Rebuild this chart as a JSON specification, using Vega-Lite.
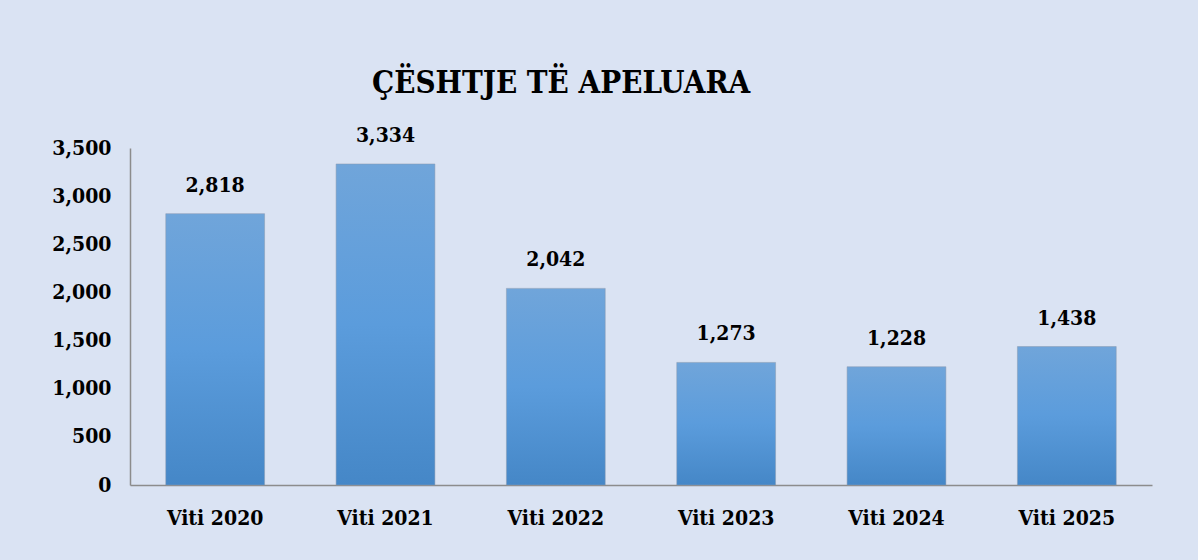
{
  "$schema": "https://vega.github.io/schema/vega-lite/v6.json",
  "width": 1022,
  "height": 337,
  "autosize": {"type": "none"},
  "padding": {"left": 130, "top": 148, "right": 46, "bottom": 75},
  "background": "#DAE3F3",
  "config": {
    "view": {"stroke": null},
    "font": "DejaVu Serif Condensed, DejaVu Serif"
  },
  "title": {
    "text": "ÇËSHTJE TË APELUARA",
    "anchor": "start",
    "frame": "group",
    "dx": 242,
    "fontSize": 31,
    "fontWeight": "bold",
    "font": "DejaVu Serif Condensed, DejaVu Serif",
    "color": "#000000",
    "offset": 25
  },
  "data": {
    "values": [
      {"year": "Viti 2020", "value": 2818},
      {"year": "Viti 2021", "value": 3334},
      {"year": "Viti 2022", "value": 2042},
      {"year": "Viti 2023", "value": 1273},
      {"year": "Viti 2024", "value": 1228},
      {"year": "Viti 2025", "value": 1438}
    ]
  },
  "encoding": {
    "x": {
      "field": "year",
      "type": "nominal",
      "sort": null,
      "scale": {"paddingInner": 0.42, "paddingOuter": 0.21},
      "axis": {
        "title": null,
        "labelAngle": 0,
        "ticks": false,
        "domainColor": "#8C8C8C",
        "domainWidth": 1.5,
        "labelFont": "DejaVu Serif Condensed, DejaVu Serif",
        "labelFontSize": 21,
        "labelFontWeight": "bold",
        "labelColor": "#000000",
        "labelPadding": 22
      }
    },
    "y": {
      "field": "value",
      "type": "quantitative",
      "scale": {"domain": [0, 3500], "nice": false},
      "axis": {
        "title": null,
        "values": [0, 500, 1000, 1500, 2000, 2500, 3000, 3500],
        "format": ",.0f",
        "grid": false,
        "ticks": false,
        "domainColor": "#8C8C8C",
        "domainWidth": 1.5,
        "labelFont": "DejaVu Serif Condensed, DejaVu Serif",
        "labelFontSize": 21,
        "labelFontWeight": "bold",
        "labelColor": "#000000",
        "labelPadding": 19
      }
    }
  },
  "layer": [
    {
      "mark": {
        "type": "bar",
        "stroke": "#8A9AB0",
        "strokeOpacity": 0.5,
        "strokeWidth": 1,
        "color": {
          "gradient": "linear",
          "x1": 0, "y1": 0, "x2": 0, "y2": 1,
          "stops": [
            {"offset": 0, "color": "#70A5DA"},
            {"offset": 0.5, "color": "#5B9CDC"},
            {"offset": 1, "color": "#4587C7"}
          ]
        }
      }
    },
    {
      "mark": {
        "type": "text",
        "baseline": "alphabetic",
        "dy": -22,
        "font": "DejaVu Serif Condensed, DejaVu Serif",
        "fontSize": 21,
        "fontWeight": "bold",
        "color": "#000000"
      },
      "encoding": {
        "text": {"field": "value", "type": "quantitative", "format": ",.0f"}
      }
    }
  ]
}
